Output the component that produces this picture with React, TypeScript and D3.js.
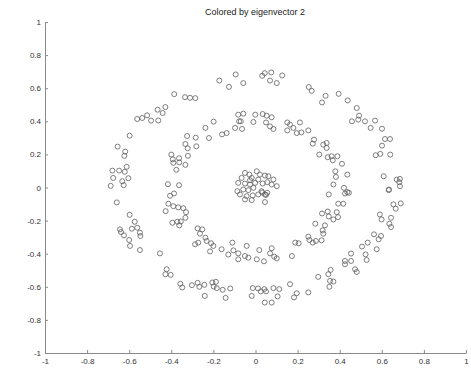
import React, { useEffect, useRef } from 'react';
import * as d3 from 'd3';

const title = 'Colored by eigenvector 2';
const xTicks = [-1, -0.8, -0.6, -0.4, -0.2, 0, 0.2, 0.4, 0.6, 0.8, 1];
const yTicks = [-1, -0.8, -0.6, -0.4, -0.2, 0, 0.2, 0.4, 0.6, 0.8, 1];

// points, [x, y]
const outerRing: [number, number][] = [
  [-0.094, 0.683], [-0.172, 0.646], [-0.126, 0.608], [-0.386, 0.564], [-0.335, 0.546], [-0.311, 0.542],
  [-0.286, 0.54], [-0.428, 0.486], [-0.465, 0.47], [-0.441, 0.45], [-0.462, 0.405], [-0.496, 0.404],
  [-0.515, 0.436], [-0.538, 0.42], [-0.562, 0.414], [-0.598, 0.313], [-0.655, 0.247], [-0.619, 0.217],
  [-0.623, 0.191], [-0.612, 0.125], [-0.68, 0.102], [-0.648, 0.102], [-0.621, 0.095], [-0.676, 0.058],
  [-0.604, 0.056], [-0.633, 0.038], [-0.626, 0.014], [-0.688, 0.01], [-0.659, -0.09],
  [-0.598, -0.165], [-0.574, -0.207], [-0.587, -0.249], [-0.562, -0.243], [-0.644, -0.253], [-0.639, -0.269],
  [-0.625, -0.289], [-0.549, -0.273], [-0.547, -0.293], [-0.6, -0.317], [-0.596, -0.353], [-0.549, -0.378],
  [-0.454, -0.398], [-0.422, -0.494], [-0.428, -0.524], [-0.403, -0.528], [-0.357, -0.582], [-0.348, -0.604],
  [-0.302, -0.59], [-0.275, -0.576], [-0.267, -0.6], [-0.243, -0.588], [-0.205, -0.574], [-0.188, -0.57],
  [-0.199, -0.598], [-0.184, -0.608], [-0.156, -0.618], [-0.12, -0.61], [-0.241, -0.655], [-0.142, -0.667],
  [0.633, -0.016], [0.655, -0.102], [0.666, -0.128], [0.69, -0.096], [0.591, -0.163], [0.599, -0.193],
  [0.644, -0.183], [0.636, -0.219], [0.644, -0.239], [0.563, -0.283], [0.585, -0.313], [0.596, -0.293],
  [0.576, -0.373], [0.533, -0.333], [0.506, -0.357], [0.523, -0.404], [0.528, -0.438], [0.454, -0.399],
  [0.454, -0.444], [0.425, -0.444], [0.425, -0.464], [0.473, -0.494], [0.481, -0.51], [0.357, -0.498],
  [0.346, -0.524], [0.354, -0.564], [0.37, -0.568], [0.351, -0.6], [0.298, -0.54], [0.164, -0.584],
  [0.251, -0.634], [0.196, -0.639], [0.183, -0.664], [0.113, -0.614], [0.085, -0.608], [0.105, -0.658],
  [0.05, -0.628], [0.025, -0.628], [0.012, -0.61], [-0.013, -0.608], [-0.018, -0.655], [0.042, -0.614],
  [0.044, -0.695], [0.077, -0.695],
  [0.032, 0.675], [0.044, 0.691], [0.075, 0.695], [0.069, 0.646], [0.101, 0.631], [0.127, 0.677],
  [-0.058, 0.631], [0.253, 0.607], [0.267, 0.584], [0.333, 0.554], [0.316, 0.514], [0.395, 0.566],
  [0.438, 0.526], [0.481, 0.48], [0.492, 0.434], [0.488, 0.41], [0.458, 0.4], [0.52, 0.4],
  [0.568, 0.404], [0.547, 0.36], [0.601, 0.355], [0.615, 0.293], [0.639, 0.293], [0.601, 0.253],
  [0.571, 0.195], [0.593, 0.203], [0.64, 0.199], [0.609, 0.068], [0.671, 0.048], [0.686, 0.052],
  [0.686, 0.008], [0.634, -0.012], [0.683, 0.032],
];

const middleRing: [number, number][] = [
  [-0.199, 0.398], [-0.238, 0.36], [-0.159, 0.321], [-0.137, 0.329], [-0.097, 0.36], [-0.078, 0.4],
  [-0.221, 0.299], [-0.325, 0.311], [-0.284, 0.301], [-0.333, 0.263], [-0.322, 0.237], [-0.281, 0.249],
  [-0.4, 0.199], [-0.393, 0.17], [-0.363, 0.177], [-0.321, 0.191], [-0.39, 0.149], [-0.362, 0.152],
  [-0.333, 0.137], [-0.376, 0.107], [-0.416, 0.02], [-0.363, 0.014], [-0.406, -0.05], [-0.387, -0.036],
  [-0.414, -0.098], [-0.39, -0.113], [-0.367, -0.12], [-0.343, -0.125],
  [-0.427, -0.143], [-0.33, -0.149], [-0.333, -0.183], [-0.395, -0.213], [-0.371, -0.207], [-0.362, -0.229],
  [-0.355, -0.205], [-0.275, -0.247], [-0.253, -0.253], [-0.264, -0.279], [-0.238, -0.303], [-0.232, -0.323],
  [-0.287, -0.343], [-0.272, -0.333], [-0.211, -0.337], [-0.2, -0.353], [-0.216, -0.386], [-0.161, -0.373],
  [-0.11, -0.333], [-0.129, -0.405], [-0.105, -0.38], [-0.082, -0.434],
  [-0.042, -0.353], [-0.082, -0.398], [-0.05, -0.414], [-0.034, -0.424], [0.018, -0.378], [0.006, -0.434],
  [0.04, -0.446], [0.069, -0.398], [0.077, -0.367], [0.089, -0.418], [0.101, -0.428], [0.173, -0.414],
  [0.189, -0.333], [0.205, -0.337], [0.251, -0.297], [0.256, -0.317], [0.272, -0.333], [0.287, -0.323],
  [0.314, -0.319], [0.284, -0.219], [0.319, -0.259], [0.322, -0.279], [0.316, -0.157], [0.33, -0.229],
  [0.343, -0.145], [0.348, -0.175], [0.37, -0.193], [0.386, -0.149], [0.392, -0.179], [0.348, -0.042],
  [0.393, -0.098], [0.417, -0.098], [0.425, -0.036], [0.444, -0.032],
  [-0.082, 0.44], [-0.058, 0.446], [-0.07, 0.4], [-0.064, 0.354], [-0.001, 0.44], [-0.01, 0.396],
  [0.034, 0.444], [0.053, 0.434], [0.077, 0.424], [0.05, 0.393], [0.069, 0.369], [0.085, 0.354],
  [0.151, 0.393], [0.164, 0.38], [0.211, 0.393], [0.18, 0.36], [0.151, 0.345], [0.196, 0.329],
  [0.218, 0.333], [0.251, 0.345], [0.272, 0.265], [0.278, 0.289], [0.322, 0.259], [0.338, 0.269],
  [0.338, 0.239], [0.303, 0.199], [0.343, 0.183], [0.362, 0.189], [0.367, 0.165], [0.389, 0.189],
  [0.411, 0.143], [0.379, 0.098], [0.382, 0.064], [0.436, 0.078], [0.37, 0.018], [0.42, -0.002],
  [0.436, -0.028],
];

const innerCluster: [number, number][] = [
  [-0.05, 0.088], [-0.029, 0.078], [0.006, 0.098], [-0.066, 0.058], [-0.018, 0.058], [0.013, 0.048],
  [0.045, 0.072], [0.061, 0.068], [-0.082, 0.028], [-0.05, 0.024], [-0.026, 0.018], [-0.002, 0.028],
  [0.034, 0.024], [0.056, 0.032], [0.077, 0.018], [0.101, 0.008], [-0.086, -0.022], [-0.058, -0.012],
  [-0.034, -0.016], [-0.01, -0.002], [0.029, -0.022], [0.045, -0.042], [0.056, -0.032], [-0.074, -0.042],
  [-0.042, -0.052], [-0.013, -0.048], [0.013, -0.042], [-0.05, -0.072], [-0.018, -0.076], [0.045, -0.088],
  [-0.026, 0.044], [0.021, 0.078], [0.085, 0.048], [0.032, -0.03], [0.05, -0.045],
];

const W = 471;
const H = 368;

export default function App() {
  const svgRef = useRef<SVGSVGElement>(null);

  useEffect(() => {
    const svg = d3.select(svgRef.current);
    svg.selectAll('*').remove();

    const x = d3.scaleLinear().domain([-1, 1]).range([45, 466]);
    const y = d3.scaleLinear().domain([-1, 1]).range([353, 22]);

    const fmt = (d: d3.NumberValue) => String(d);

    const xAxis = svg.append('g')
      .attr('transform', `translate(0,${y(-1)})`)
      .call(d3.axisBottom(x).tickValues(xTicks).tickFormat(fmt).tickSizeInner(-3).tickSizeOuter(0).tickPadding(5));
    const yAxis = svg.append('g')
      .attr('transform', `translate(${x(-1)},0)`)
      .call(d3.axisLeft(y).tickValues(yTicks).tickFormat(fmt).tickSizeInner(-3).tickSizeOuter(0).tickPadding(4));

    [xAxis, yAxis].forEach(g => {
      g.select('.domain').attr('stroke', '#8a8a8a');
      g.selectAll('.tick line').attr('stroke', '#8a8a8a');
      g.selectAll('.tick text')
        .attr('fill', '#333')
        .style('font-family', 'Arial, "Liberation Sans", sans-serif')
        .style('font-size', '8px');
    });

    // all points share one marker style
    const pts = [...outerRing, ...middleRing, ...innerCluster];
    svg.append('g')
      .selectAll('circle')
      .data(pts)
      .join('circle')
      .attr('cx', d => x(d[0]))
      .attr('cy', d => y(d[1]))
      .attr('r', 2.5)
      .attr('fill', 'none')
      .attr('stroke', '#5e5e5e')
      .attr('stroke-width', 0.8);

    svg.append('text')
      .attr('x', 255)
      .attr('y', 15)
      .attr('text-anchor', 'middle')
      .attr('fill', '#222')
      .style('font-family', 'Arial, "Liberation Sans", sans-serif')
      .style('font-size', '9px')
      .text(title);
  }, []);

  return (
    <svg
      ref={svgRef}
      width={W}
      height={H}
      style={{ position: 'absolute', left: 0, top: 0, background: '#fff' }}
    />
  );
}
